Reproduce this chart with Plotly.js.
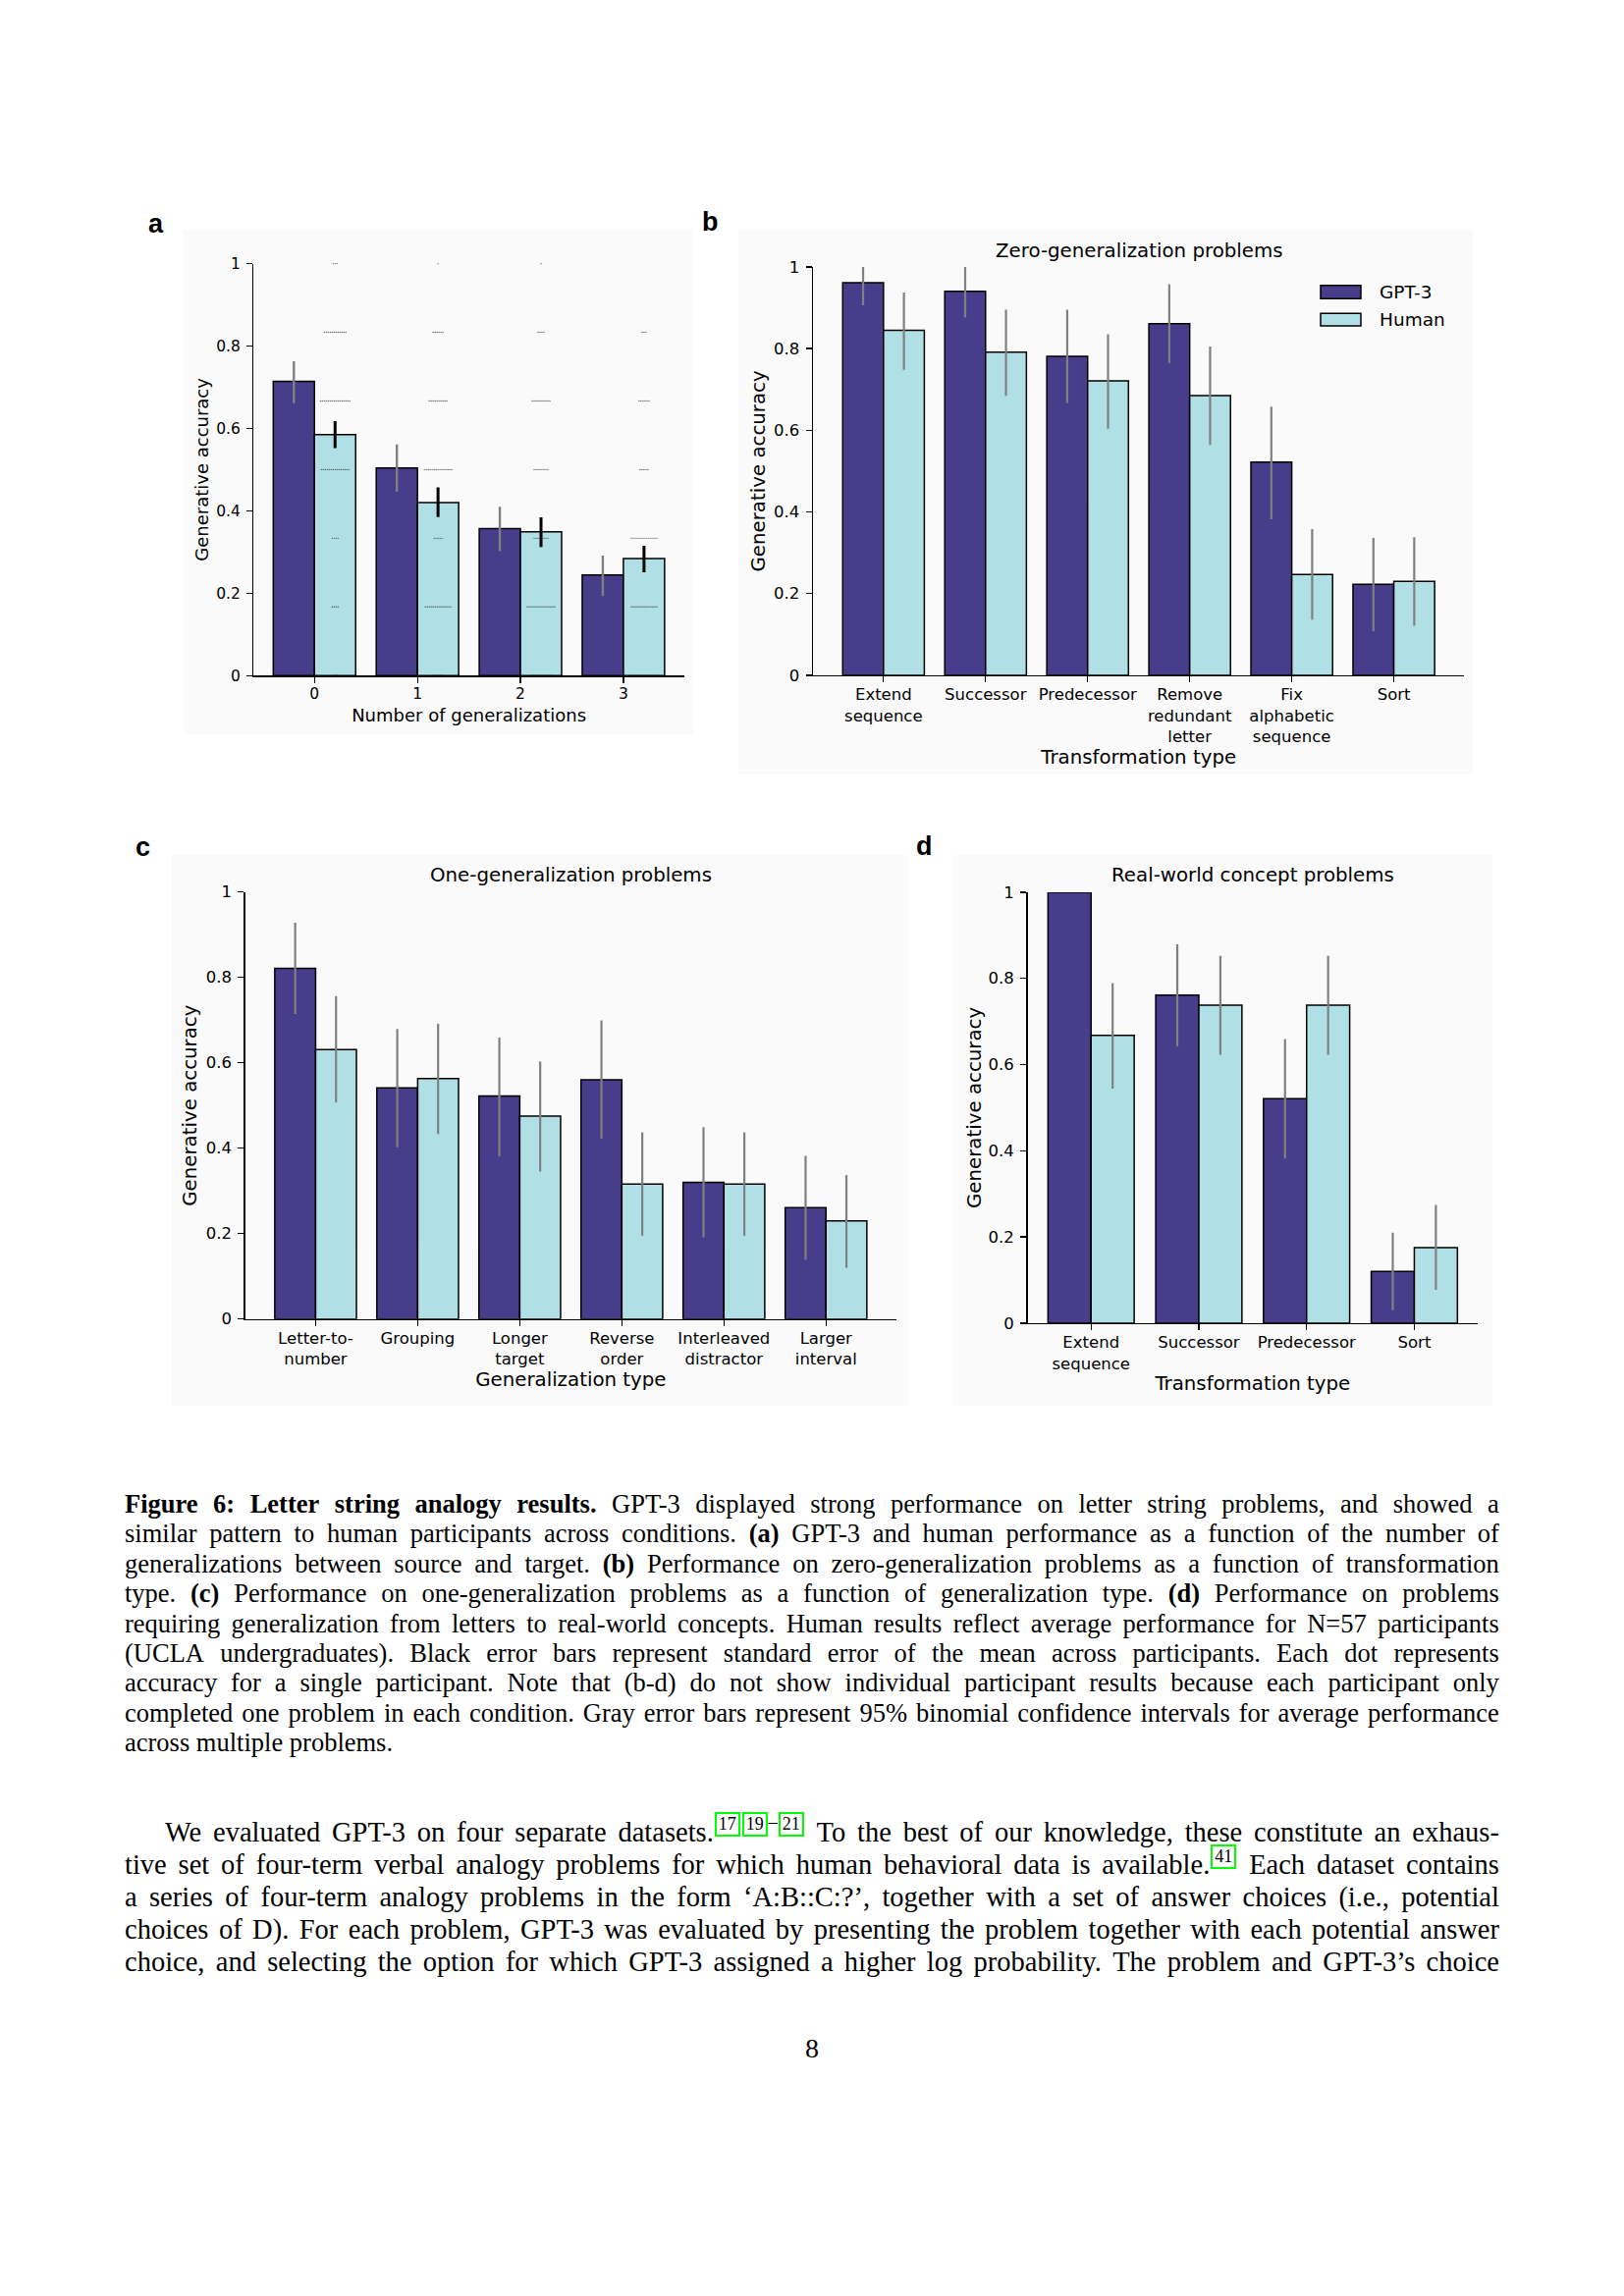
<!DOCTYPE html>
<html>
<head>
<meta charset="utf-8">
<script src="https://cdn.plot.ly/plotly-3.0.1.min.js"></script>
<style>
  html, body { margin: 0; padding: 0; background: #fff; }
  body { width: 1654px; height: 2339px; position: relative; overflow: hidden; }
  #plot { position: absolute; left: 0; top: 0; width: 1654px; height: 1480px; }
  .ln { position: absolute; left: 127px; width: 1400px; display: flex; justify-content: space-between;
        align-items: baseline; font-family: 'Liberation Serif', 'DejaVu Serif', serif; color: #000; white-space: nowrap; }
  .ln.last { justify-content: flex-start; }
  .ln.last span { margin-right: 0.25em; }
  .cap { font-size: 26.5px; height: 30px; line-height: 30px; }
  .bod { font-size: 28.5px; height: 33px; line-height: 33px; }
  .r { display: inline-block; border: 2px solid #00ff00; font-size: 18px; line-height: 18px; padding: 1px 2px 2px 2px;
       position: relative; top: -12px; margin: 0 1px; }
  .rd { display: inline-block; font-size: 18px; position: relative; top: -14px; }
  #pg { position: absolute; left: 0; width: 1654px; text-align: center; top: 2071px; font-size: 28px;
        font-family: 'Liberation Serif', serif; }
</style>
</head>
<body>
<div id="plot"></div>
<div id="text"></div>
<div id="pg">8</div>
<script>
// ---------------- DATA ----------------
// Panel a: number of generalizations
const genCats = ['0', '1', '2', '3'];
const aGpt     = [0.714, 0.504, 0.357, 0.244];
const aGptLo   = [0.661, 0.446, 0.302, 0.193];
const aGptHi   = [0.763, 0.561, 0.410, 0.291];
const aHuman   = [0.585, 0.420, 0.349, 0.284];
const aHumanLo = [0.552, 0.385, 0.312, 0.251];
const aHumanHi = [0.618, 0.457, 0.384, 0.315];
// individual participant accuracies (counts of participants at each accuracy level)
const dotLevels = [0, 1/6, 2/6, 3/6, 4/6, 5/6, 1];
const dotCounts = [
  [3, 4, 4, 15, 16, 12, 3],   // 0 generalizations
  [6, 14, 5, 15, 10, 6, 1],   // 1
  [11, 15, 8, 8, 10, 4, 1],   // 2
  [15, 14, 14, 5, 6, 3, 0]    // 3
];

// Panel b: zero-generalization problems
const bCats = ['Extend<br>sequence', 'Successor', 'Predecessor', 'Remove<br>redundant<br>letter', 'Fix<br>alphabetic<br>sequence', 'Sort'];
const bGpt     = [0.961, 0.940, 0.781, 0.861, 0.522, 0.223];
const bGptLo   = [0.906, 0.876, 0.667, 0.765, 0.382, 0.108];
const bGptHi   = [1.000, 1.000, 0.895, 0.957, 0.658, 0.336];
const bHuman   = [0.845, 0.791, 0.721, 0.685, 0.247, 0.230];
const bHumanLo = [0.748, 0.684, 0.604, 0.564, 0.136, 0.121];
const bHumanHi = [0.937, 0.895, 0.835, 0.805, 0.358, 0.338];

// Panel c: one-generalization problems
const cCats = ['Letter-to-<br>number', 'Grouping', 'Longer<br>target', 'Reverse<br>order', 'Interleaved<br>distractor', 'Larger<br>interval'];
const cGpt     = [0.821, 0.541, 0.522, 0.560, 0.320, 0.261];
const cGptLo   = [0.714, 0.402, 0.381, 0.422, 0.191, 0.139];
const cGptHi   = [0.928, 0.679, 0.659, 0.699, 0.449, 0.382];
const cHuman   = [0.631, 0.563, 0.475, 0.316, 0.316, 0.230];
const cHumanLo = [0.507, 0.433, 0.345, 0.195, 0.195, 0.120];
const cHumanHi = [0.756, 0.691, 0.603, 0.437, 0.437, 0.337];

// Panel d: real-world concept problems
const dCats = ['Extend<br>sequence', 'Successor', 'Predecessor', 'Sort'];
const dGpt     = [1.000, 0.761, 0.521, 0.120];
const dGptLo   = [1.000, 0.642, 0.382, 0.030];
const dGptHi   = [1.000, 0.879, 0.659, 0.210];
const dHuman   = [0.668, 0.738, 0.738, 0.175];
const dHumanLo = [0.544, 0.623, 0.623, 0.077];
const dHumanHi = [0.789, 0.852, 0.852, 0.274];

const yTickVals = [0, 0.2, 0.4, 0.6, 0.8, 1];
const yTickText = ['0', '0.2', '0.4', '0.6', '0.8', '1'];
const seriesNames = ['GPT-3', 'Human'];

// ---------------- STYLE ----------------
const W = 1654, H = 1480;
const F = 'DejaVu Sans, sans-serif';
const GPT_COLOR = '#483D8B', HUM_COLOR = '#B0E0E6';
const px = x => x / W, py = y => 1 - y / H;
const xd = (l, r) => [l / W, r / W];
const yd = (t, b) => [1 - b / H, 1 - t / H];

function barTrace(name, xa, ya, vals, lo, hi, color, errColor, errThick) {
  return {
    type: 'bar', name: name, x: vals.map((_, i) => i), y: vals, xaxis: xa, yaxis: ya,
    marker: { color: color, line: { color: '#000', width: 1.5 } },
    error_y: { type: 'data', symmetric: false,
      array: hi.map((h, i) => h - vals[i]), arrayminus: vals.map((v, i) => v - lo[i]),
      color: errColor, thickness: errThick, width: 0 },
    showlegend: false, hoverinfo: 'skip'
  };
}

const dotStep = 0.019;
const dotX = [], dotY = [];
dotCounts.forEach((counts, g) => counts.forEach((n, k) => {
  for (let j = 0; j < n; j++) { dotX.push(g + 0.2 + (j - (n - 1) / 2) * dotStep); dotY.push(dotLevels[k]); }
}));

const traces = [
  barTrace(seriesNames[0], 'x', 'y', aGpt, aGptLo, aGptHi, GPT_COLOR, '#808080', 2.4),
  barTrace(seriesNames[1], 'x', 'y', aHuman, aHumanLo, aHumanHi, HUM_COLOR, '#000000', 3),
  { type: 'scatter', mode: 'markers', x: dotX, y: dotY, xaxis: 'x', yaxis: 'y',
    marker: { size: 1.4, color: 'rgba(0,0,0,0.6)', line: { width: 0 } }, showlegend: false, hoverinfo: 'skip', cliponaxis: false },
  barTrace(seriesNames[0], 'x2', 'y2', bGpt, bGptLo, bGptHi, GPT_COLOR, '#808080', 2.2),
  barTrace(seriesNames[1], 'x2', 'y2', bHuman, bHumanLo, bHumanHi, HUM_COLOR, '#808080', 2.2),
  barTrace(seriesNames[0], 'x3', 'y3', cGpt, cGptLo, cGptHi, GPT_COLOR, '#808080', 2.2),
  barTrace(seriesNames[1], 'x3', 'y3', cHuman, cHumanLo, cHumanHi, HUM_COLOR, '#808080', 2.2),
  barTrace(seriesNames[0], 'x4', 'y4', dGpt, dGptLo, dGptHi, GPT_COLOR, '#808080', 2.2),
  barTrace(seriesNames[1], 'x4', 'y4', dHuman, dHumanLo, dHumanHi, HUM_COLOR, '#808080', 2.2)
];

function xax(dom, anchor, range, cats, fs, title, tfs, standoff) {
  return {
    domain: dom, anchor: anchor, range: range,
    tickmode: 'array', tickvals: cats.map((_, i) => i), ticktext: cats,
    ticks: 'outside', ticklen: 6, tickwidth: 1.3, tickcolor: '#000', ticklabelstandoff: -2,
    showline: true, linecolor: '#000', linewidth: 1.5, showgrid: false, zeroline: false,
    tickfont: { family: F, size: fs, color: '#000' },
    title: { text: title, font: { family: F, size: tfs, color: '#000' }, standoff: standoff },
    automargin: false, fixedrange: true
  };
}
function yax(dom, anchor, fs, tfs, standoff) {
  return {
    domain: dom, anchor: anchor, range: [0, 1],
    tickmode: 'array', tickvals: yTickVals, ticktext: yTickText,
    ticks: 'outside', ticklen: 6, tickwidth: 1.3, tickcolor: '#000', ticklabelstandoff: 3,
    showline: true, linecolor: '#000', linewidth: 1.5, showgrid: false, zeroline: false,
    tickfont: { family: F, size: fs, color: '#000' },
    title: { text: 'Generative accuracy', font: { family: F, size: tfs, color: '#000' }, standoff: standoff },
    automargin: false, fixedrange: true
  };
}

function panelBox(l, t, r, b) {
  return { type: 'rect', xref: 'paper', yref: 'paper', x0: px(l), x1: px(r), y0: py(b), y1: py(t),
           fillcolor: '#fafafa', line: { width: 0 }, layer: 'below' };
}
function ann(text, x, y, size, opts) {
  return Object.assign({ text: text, x: px(x), y: py(y), xref: 'paper', yref: 'paper', showarrow: false,
    xanchor: 'center', yanchor: 'middle', font: { family: F, size: size, color: '#000' } }, opts || {});
}
function legRect(l, t, r, b, color) {
  return { type: 'rect', xref: 'paper', yref: 'paper', x0: px(l), x1: px(r), y0: py(b), y1: py(t),
           fillcolor: color, line: { color: '#000', width: 1.5 }, layer: 'above' };
}
const LBL = { family: 'Liberation Sans, Arial, sans-serif', size: 27, color: '#000' };

const layout = {
  width: W, height: H, margin: { l: 0, r: 0, t: 0, b: 0 },
  paper_bgcolor: 'rgba(0,0,0,0)', plot_bgcolor: 'rgba(0,0,0,0)',
  barmode: 'group', bargap: 0.2, bargroupgap: 0, showlegend: false,
  xaxis:  xax(xd(258.4, 696.8), 'y',  [-0.59, 3.59], genCats, 15.5, 'Number of generalizations', 18, 6.5),
  yaxis:  yax(yd(268.6, 688.2), 'x', 15.5, 18, 3),
  xaxis2: xax(xd(828.1, 1491.3), 'y2', [-0.69, 5.69], bCats, 16.5, 'Transformation type', 19.8, 2),
  yaxis2: yax(yd(271.9, 687.9), 'x2', 16.5, 19.8, 3),
  xaxis3: xax(xd(249.7, 913.0), 'y3', [-0.69, 5.69], cCats, 16.5, 'Generalization type', 19.8, 4),
  yaxis3: yax(yd(908.6, 1343.7), 'x3', 16.5, 19.8, 3),
  xaxis4: xax(xd(1046.5, 1505.2), 'y4', [-0.59, 3.59], dCats, 16.5, 'Transformation type', 19.8, 4),
  yaxis4: yax(yd(908.9, 1347.9), 'x4', 16.5, 19.8, 1),
  shapes: [
    panelBox(187, 234, 706, 748),
    panelBox(752, 234, 1500, 789),
    panelBox(175, 871, 925, 1432),
    panelBox(971, 871, 1520, 1432),
    legRect(1345, 290.7, 1386, 304.3, GPT_COLOR),
    legRect(1345, 319.3, 1386, 332.0, HUM_COLOR)
  ],
  annotations: [
    ann('<b>a</b>', 158.8, 227.5, 27, { font: LBL }),
    ann('<b>b</b>', 723.5, 225.5, 27, { font: LBL }),
    ann('<b>c</b>', 145, 863.4, 27, { font: LBL }),
    ann('<b>d</b>', 941.5, 862, 27, { font: LBL }),
    ann('Zero-generalization problems', 1160, 255.5, 19.8),
    ann('One-generalization problems', 581.3, 891.3, 19.8),
    ann('Real-world concept problems', 1275.9, 891.3, 19.8),
    ann(seriesNames[0], 1402.7, 297.5, 18.5, { xanchor: 'left' }),
    ann(seriesNames[1], 1402.7, 325.7, 18.5, { xanchor: 'left' })
  ]
};

Plotly.newPlot('plot', traces, layout, { staticPlot: true, displayModeBar: false });

// ---------------- CAPTION AND BODY TEXT ----------------
const captionLines = [
  '**Figure** **6:** **Letter** **string** **analogy** **results.** GPT-3 displayed strong performance on letter string problems, and showed a',
  'similar pattern to human participants across conditions. **(a)** GPT-3 and human performance as a function of the number of',
  'generalizations between source and target. **(b)** Performance on zero-generalization problems as a function of transformation',
  'type. **(c)** Performance on one-generalization problems as a function of generalization type. **(d)** Performance on problems',
  'requiring generalization from letters to real-world concepts. Human results reflect average performance for N=57 participants',
  '(UCLA undergraduates). Black error bars represent standard error of the mean across participants. Each dot represents',
  'accuracy for a single participant. Note that (b-d) do not show individual participant results because each participant only',
  'completed one problem in each condition. Gray error bars represent 95% binomial confidence intervals for average performance',
  'across multiple problems.'
];
const bodyLines = [
  'We evaluated GPT-3 on four separate datasets.{17}{19}~{21} To the best of our knowledge, these constitute an exhaus-',
  'tive set of four-term verbal analogy problems for which human behavioral data is available.{41} Each dataset contains',
  'a series of four-term analogy problems in the form ‘A:B::C:?’, together with a set of answer choices (i.e., potential',
  'choices of D). For each problem, GPT-3 was evaluated by presenting the problem together with each potential answer',
  'choice, and selecting the option for which GPT-3 assigned a higher log probability. The problem and GPT-3’s choice'
];

function tok(w) {
  return w.replace(/\*\*(.+?)\*\*/g, '<b>$1</b>')
          .replace(/\{(\d+)\}/g, '<span class="r">$1</span>')
          .replace(/~/g, '<span class="rd">–</span>');
}
function addLines(lines, cls, firstCenter, step, lastPlain, indentFirst) {
  const host = document.getElementById('text');
  lines.forEach((line, i) => {
    const d = document.createElement('div');
    d.className = 'ln ' + cls + ((lastPlain && i === lines.length - 1) ? ' last' : '');
    const h = (cls === 'cap') ? 30 : 33;
    d.style.top = (firstCenter + i * step - h / 2) + 'px';
    if (indentFirst && i === 0) { d.style.left = (127 + 41) + 'px'; d.style.width = (1400 - 41) + 'px'; }
    d.innerHTML = line.split(' ').map(w => '<span>' + tok(w) + '</span>').join('');
    host.appendChild(d);
  });
}
addLines(captionLines, 'cap', 1532, 30.4, true, false);
addLines(bodyLines, 'bod', 1866, 33.2, false, true);
</script>
</body>
</html>
